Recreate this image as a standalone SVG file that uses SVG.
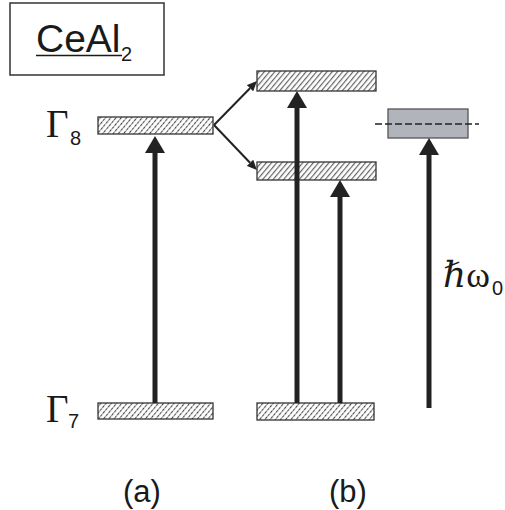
<svg xmlns="http://www.w3.org/2000/svg" width="505" height="510" viewBox="0 0 505 510">
  <defs>
    <pattern id="hatchDot" patternUnits="userSpaceOnUse" width="4" height="4" patternTransform="rotate(40)">
      <rect width="4" height="4" fill="#fff"/>
      <line x1="0.6" y1="0" x2="0.6" y2="4" stroke="#333" stroke-width="1" stroke-dasharray="2.6 0.9"/>
    </pattern>
    <pattern id="hatch" patternUnits="userSpaceOnUse" width="4" height="4" patternTransform="rotate(40)">
      <rect width="4" height="4" fill="#fff"/>
      <line x1="0.6" y1="0" x2="0.6" y2="4" stroke="#666" stroke-width="1.2"/>
    </pattern>
    <marker id="bigHead" markerUnits="userSpaceOnUse" markerWidth="17" markerHeight="20" viewBox="0 0 17 20" refX="0" refY="10" orient="auto">
      <path d="M0,0 L17,10 L0,20 z" fill="#222"/>
    </marker>
    <marker id="smallHead" markerUnits="userSpaceOnUse" markerWidth="10" markerHeight="9" viewBox="0 0 10 9" refX="0" refY="4.5" orient="auto">
      <path d="M0,0 L10,4.5 L0,9 z" fill="#222"/>
    </marker>
  </defs>
  <style>
    .bar { stroke: #333; stroke-width: 1.3; }
    .thick { stroke: #222; stroke-width: 5; fill: none; marker-end: url(#bigHead); }
    .thin { stroke: #222; stroke-width: 2; fill: none; marker-end: url(#smallHead); }
    .sans { font-family: "Liberation Sans", Arial, sans-serif; fill: #1a1a1a; }
    .serif { font-family: "Liberation Serif", "DejaVu Serif", serif; fill: #1a1a1a; }
  </style>

  <g id="title">
    <rect x="10" y="3" width="154" height="72" fill="#fff" stroke="#333" stroke-width="1.5"/>
    <text class="sans" x="36" y="52" font-size="39">CeAl</text>
    <text class="sans" x="121" y="61" font-size="20">2</text>
    <line x1="36" y1="55.5" x2="122" y2="55.5" stroke="#1a1a1a" stroke-width="1.5"/>
  </g>

  <g id="gamma8-label">
    <text class="serif" x="46" y="137" font-size="39">Γ</text>
    <text class="sans" x="70" y="145" font-size="20">8</text>
  </g>
  <g id="gamma7-label">
    <text class="serif" x="46" y="422" font-size="39">Γ</text>
    <text class="sans" x="68" y="428" font-size="20">7</text>
  </g>

  <g id="a-gamma8"><rect class="bar" x="98" y="117" width="115" height="17" fill="url(#hatchDot)"/></g>
  <g id="a-gamma7"><rect class="bar" x="98" y="403" width="115" height="16" fill="url(#hatchDot)"/></g>

  <g id="b-upper"><rect class="bar" x="257" y="71" width="119" height="20" fill="url(#hatch)"/></g>
  <g id="b-lower"><rect class="bar" x="257" y="162" width="119" height="18" fill="url(#hatch)"/></g>
  <g id="b-ground"><rect class="bar" x="257" y="403" width="117" height="17" fill="url(#hatchDot)"/></g>

  <g id="c-level">
    <rect x="388" y="109" width="80" height="29" fill="#b1b4bb" stroke="#555" stroke-width="1.3"/>
    <line x1="375" y1="124" x2="479" y2="124" stroke="#222" stroke-width="1.5" stroke-dasharray="7 3"/>
  </g>

  <g id="connectors">
    <line class="thick" x1="155" y1="403" x2="155" y2="153"/>
    <line class="thick" x1="297" y1="403" x2="297" y2="108"/>
    <line class="thick" x1="340" y1="403" x2="340" y2="197"/>
    <line class="thick" x1="429" y1="408" x2="429" y2="155"/>
    <line class="thin" x1="214" y1="125" x2="250" y2="88.2"/>
    <line class="thin" x1="214" y1="125" x2="250" y2="162.8"/>
  </g>

  <g id="hw-label">
    <text class="serif" x="443" y="287" font-size="36"><tspan font-style="italic">ℏ</tspan>ω</text>
    <text class="sans" x="492" y="295" font-size="20">0</text>
  </g>

  <g id="labels">
    <text class="sans" x="142" y="502" font-size="31" text-anchor="middle">(a)</text>
    <text class="sans" x="348" y="502" font-size="31" text-anchor="middle">(b)</text>
  </g>
</svg>
